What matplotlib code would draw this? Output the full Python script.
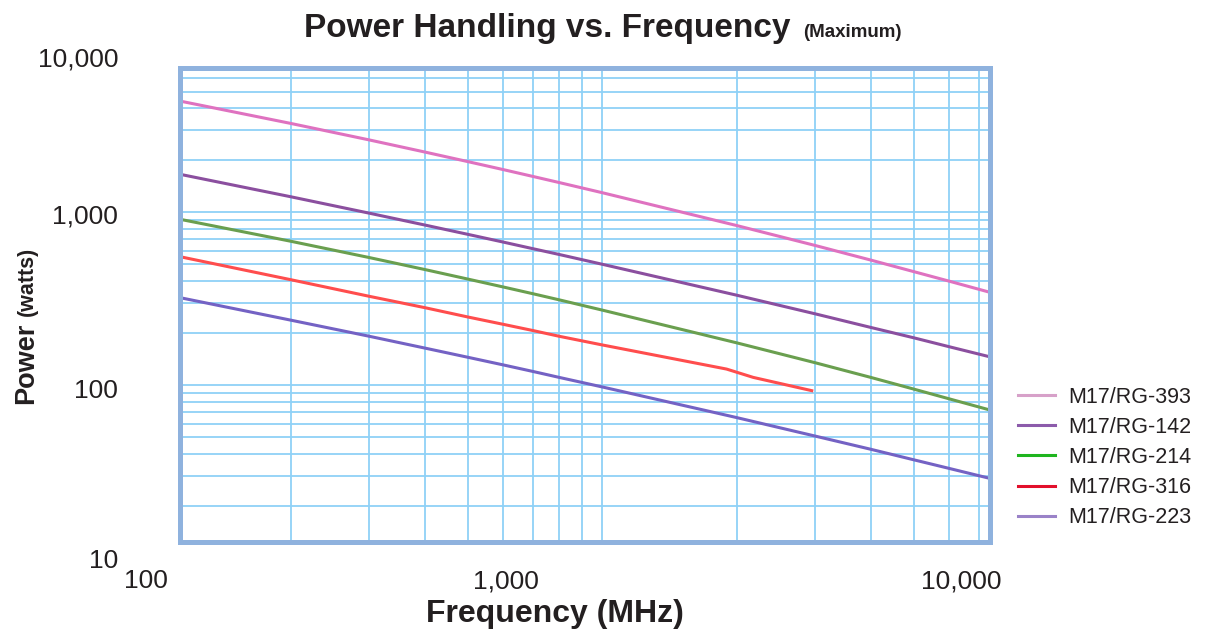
import matplotlib
matplotlib.use('Agg')
import matplotlib.pyplot as plt
from matplotlib.lines import Line2D

# frequency (MHz) as read against the chart grid
freq = [113, 200, 300, 400, 500, 600, 700, 800, 1000, 2000, 3000, 4000, 5000, 6000, 7400]
rg393 = [4406, 3273, 2627, 2235, 1966, 1768, 1613, 1489, 1300, 840, 644, 530, 454, 400, 345]
rg142 = [1661, 1232, 990, 845, 746, 673, 616, 571, 501, 332, 259, 216, 188, 167, 146]
rg214 = [912, 681, 548, 467, 411, 370, 338, 312, 272, 176, 135, 111, 94.9, 83.4, 71.9]
rg223 = [321, 238, 192, 164, 145, 131, 120, 111, 97.7, 65.0, 50.8, 42.6, 37.0, 33.0, 28.9]
freq316 = [113, 200, 300, 400, 500, 600, 700, 800, 1000, 1900, 2180, 2950]
rg316 = [554, 408, 327, 281, 248, 225, 207, 192, 171, 124, 111, 93]

labels = ['M17/RG-393', 'M17/RG-142', 'M17/RG-214', 'M17/RG-316', 'M17/RG-223']
line_colors = ['#df72c0', '#8b4f9f', '#6a9f4f', '#ff4d4d', '#7462c4']
legend_colors = ['#d7a1c9', '#8c5bab', '#1fb51f', '#e2102c', '#9a82c8']

x_ticklabels = ['100', '1,000', '10,000']
y_ticklabels = ['10,000', '1,000', '100', '10']

W, H = 1205, 632
plt.rcParams['font.family'] = ['Liberation Sans', 'DejaVu Sans']
TXT = '#231f20'

fig = plt.figure(figsize=(W / 100, H / 100), dpi=100)
ax = fig.add_axes([179.5 / W, 1 - 542 / H, (990 - 179.5) / W, (542 - 67.5) / H])

ax.plot(freq, rg393, color=line_colors[0], lw=2.2)
ax.plot(freq, rg142, color=line_colors[1], lw=2.2)
ax.plot(freq, rg214, color=line_colors[2], lw=2.2)
ax.plot(freq316, rg316, color=line_colors[3], lw=2.2)
ax.plot(freq, rg223, color=line_colors[4], lw=2.2)

ax.set_xscale('log')
ax.set_yscale('log')
ax.set_xlim(112.6, 7407)
ax.set_ylim(12.38, 6895)
ax.grid(True, which='both', color='#8fd1f7', lw=1.3)
ax.set_axisbelow(True)
ax.tick_params(which='both', length=0, labelbottom=False, labelleft=False)
for s in ax.spines.values():
    s.set_color('#8fb2de')
    s.set_linewidth(3.6)


def px(x, y):
    return x / W, 1 - y / H


# tick labels sit where the original puts them
for lab, y in zip(y_ticklabels, [66.5, 223.5, 398.5, 567.5]):
    fig.text(*px(118, y), lab, ha='right', va='baseline', fontsize=19, color=TXT)
for lab, x in zip(x_ticklabels, [146, 506, 961]):
    fig.text(*px(x, 588.5), lab, ha='center', va='baseline', fontsize=19, color=TXT)

fig.text(*px(791, 37), 'Power Handling vs. Frequency', ha='right', va='baseline',
         fontsize=24, fontweight='bold', color=TXT)
fig.text(*px(803, 37), '(Maximum)', ha='left', va='baseline',
         fontsize=13.5, fontweight='bold', color=TXT)
fig.text(*px(555, 622), 'Frequency (MHz)', ha='center', va='baseline',
         fontsize=23, fontweight='bold', color=TXT)

ylab = fig.text(*px(33, 404), 'Power', rotation=90, rotation_mode='anchor', ha='left',
                va='baseline', fontsize=19.5, fontweight='bold', color=TXT)
fig.canvas.draw()
top = ylab.get_window_extent().y1  # display coords, from bottom
fig.text(33 / W, (top + 7) / H, '(watts)', rotation=90, rotation_mode='anchor', ha='left',
         va='baseline', fontsize=15.5, fontweight='bold', color=TXT)

handles = [Line2D([], [], color=c, lw=2.2) for c in legend_colors]
fig.legend(handles, labels, loc='center left', bbox_to_anchor=(1018 / W, 1 - 457.5 / H),
           frameon=False, fontsize=15.5, handlelength=1.72, handletextpad=0.6,
           labelspacing=0.42, borderpad=0, borderaxespad=0, labelcolor=TXT)

fig.savefig('out.png', dpi=100)
